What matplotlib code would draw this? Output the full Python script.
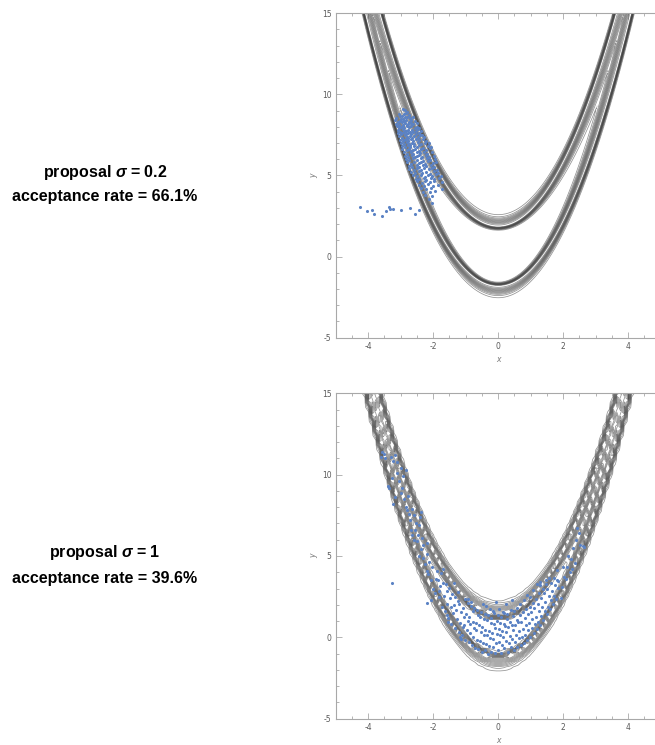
import numpy as np
import matplotlib.pyplot as plt

plt.rcParams['axes.unicode_minus'] = False
plt.rcParams['mathtext.fontset'] = 'custom'
plt.rcParams['mathtext.rm'] = 'Liberation Sans:bold'
plt.rcParams['mathtext.it'] = 'Liberation Sans:bold:italic'

################# Samples #################

# sigma = 0.2 run: main clump on the left arm
top_clump = [
    (-2.92, 9.10), (-2.80, 8.93), (-2.87, 9.02),
    (-3.05, 8.76), (-2.97, 8.69), (-2.84, 8.86), (-2.73, 8.71), (-2.91, 8.81),
    (-3.13, 8.57), (-3.02, 8.66), (-2.93, 8.51), (-2.81, 8.63), (-2.71, 8.55), (-2.62, 8.61), (-2.88, 8.59),
    (-3.17, 8.41), (-3.07, 8.30), (-2.99, 8.47), (-2.89, 8.36), (-2.84, 8.44), (-2.74, 8.29), (-2.67, 8.45), (-2.57, 8.34), (-3.03, 8.38),
    (-3.14, 8.19), (-3.05, 8.11), (-2.96, 8.27), (-2.93, 8.14), (-2.86, 8.21), (-2.77, 8.17), (-2.69, 8.26), (-2.61, 8.15), (-2.51, 8.22), (-2.81, 8.09),
    (-3.11, 8.03), (-3.04, 7.93), (-2.94, 8.06), (-2.89, 7.91), (-2.80, 8.02), (-2.73, 7.98), (-2.67, 8.07), (-2.57, 7.95), (-2.49, 8.01), (-2.44, 7.90), (-2.99, 7.98),
    (-3.09, 7.82), (-3.02, 7.71), (-2.92, 7.87), (-2.87, 7.76), (-2.78, 7.83), (-2.71, 7.70), (-2.65, 7.81), (-2.54, 7.77), (-2.48, 7.86), (-2.39, 7.72), (-2.83, 7.74),
    (-3.07, 7.63), (-2.99, 7.53), (-2.91, 7.67), (-2.83, 7.58), (-2.77, 7.61), (-2.68, 7.55), (-2.61, 7.66), (-2.52, 7.57), (-2.44, 7.64), (-2.35, 7.52), (-2.95, 7.59),
    (-3.06, 7.43), (-2.95, 7.34), (-2.87, 7.48), (-2.81, 7.37), (-2.72, 7.42), (-2.65, 7.31), (-2.59, 7.45), (-2.48, 7.38), (-2.41, 7.47), (-2.29, 7.35), (-2.76, 7.30),
    (-3.01, 7.21), (-2.94, 7.12), (-2.84, 7.27), (-2.78, 7.15), (-2.69, 7.23), (-2.63, 7.11), (-2.53, 7.24), (-2.45, 7.16), (-2.32, 7.27), (-2.21, 7.13), (-2.89, 7.19),
    (-2.99, 7.01), (-2.91, 6.93), (-2.81, 7.06), (-2.75, 6.95), (-2.65, 7.02), (-2.58, 6.97), (-2.47, 7.08), (-2.39, 6.92), (-2.26, 7.03), (-2.13, 6.98), (-2.70, 6.90),
    (-2.96, 6.83), (-2.87, 6.73), (-2.77, 6.87), (-2.71, 6.76), (-2.60, 6.82), (-2.51, 6.77), (-2.43, 6.86), (-2.31, 6.72), (-2.17, 6.84), (-2.06, 6.78),
    (-2.95, 6.61), (-2.82, 6.55), (-2.75, 6.66), (-2.63, 6.57), (-2.56, 6.62), (-2.44, 6.52), (-2.37, 6.65), (-2.23, 6.56), (-2.11, 6.67), (-2.68, 6.51),
    (-2.89, 6.43), (-2.81, 6.34), (-2.69, 6.46), (-2.61, 6.35), (-2.49, 6.42), (-2.41, 6.37), (-2.29, 6.47), (-2.19, 6.32), (-2.03, 6.44),
    (-2.87, 6.23), (-2.77, 6.14), (-2.64, 6.26), (-2.56, 6.12), (-2.44, 6.25), (-2.35, 6.17), (-2.23, 6.27), (-2.13, 6.15), (-1.99, 6.22), (-2.50, 6.19),
    (-2.84, 6.03), (-2.73, 5.93), (-2.61, 6.06), (-2.51, 5.96), (-2.39, 6.05), (-2.31, 5.92), (-2.19, 6.07), (-2.09, 5.97), (-1.94, 6.02),
    (-2.81, 5.83), (-2.67, 5.73), (-2.58, 5.86), (-2.45, 5.76), (-2.37, 5.85), (-2.25, 5.72), (-2.15, 5.87), (-2.01, 5.77), (-1.91, 5.82),
    (-2.75, 5.61), (-2.65, 5.54), (-2.51, 5.66), (-2.43, 5.53), (-2.31, 5.63), (-2.21, 5.57), (-2.07, 5.67), (-1.97, 5.54),
    (-2.73, 5.43), (-2.59, 5.34), (-2.49, 5.46), (-2.37, 5.33), (-2.28, 5.45), (-2.14, 5.37), (-2.04, 5.47), (-1.89, 5.36),
    (-2.67, 5.21), (-2.56, 5.13), (-2.43, 5.26), (-2.34, 5.14), (-2.21, 5.23), (-2.11, 5.12), (-1.97, 5.27), (-1.86, 5.17),
    (-2.63, 5.03), (-2.49, 4.94), (-2.39, 5.06), (-2.26, 4.93), (-2.16, 5.05), (-2.03, 4.97), (-1.91, 5.07), (-1.77, 4.96),
    (-2.54, 4.81), (-2.43, 4.76), (-2.29, 4.86), (-2.21, 4.73), (-2.07, 4.85), (-1.97, 4.77), (-1.83, 4.82),
    (-2.51, 4.63), (-2.35, 4.54), (-2.25, 4.66), (-2.09, 4.57), (-1.99, 4.63), (-1.74, 4.59),
    (-2.45, 4.41), (-2.27, 4.34), (-2.15, 4.46), (-2.01, 4.37), (-1.84, 4.43),
    (-2.37, 4.23), (-2.21, 4.14), (-2.06, 4.25), (-1.73, 4.19),
    (-2.31, 4.01), (-2.11, 3.96), (-1.94, 4.04),
    (-2.24, 3.81), (-2.03, 3.75),
    (-2.13, 3.52), (-2.05, 3.30),
]

# burn-in trail coming in from the left
top_trail = [
    (-4.26, 3.08), (-4.04, 2.83), (-3.87, 2.89), (-3.82, 2.63), (-3.59, 2.48),
    (-3.46, 2.83), (-3.35, 3.06), (-3.34, 2.92), (-3.25, 2.92), (-3.00, 2.89),
    (-2.72, 3.01), (-2.57, 2.63), (-2.43, 2.89),
]

# sigma = 1 run
bottom_left_arm = [
    (-3.62, 11.10), (-3.57, 11.40), (-3.47, 11.00), (-3.52, 11.25), (-3.30, 11.10),
    (-3.25, 10.85), (-3.16, 11.20), (-3.10, 10.80), (-3.00, 10.40), (-2.85, 10.30),
    (-3.40, 9.30), (-3.35, 9.20), (-3.23, 8.20), (-3.18, 8.60), (-3.05, 9.60),
    (-3.00, 8.85), (-2.95, 9.20), (-2.90, 8.50), (-2.85, 8.00), (-2.80, 7.80),
    (-2.75, 7.60), (-2.70, 7.20), (-2.65, 7.90), (-2.60, 7.50), (-2.54, 7.00),
    (-2.45, 6.90), (-2.39, 7.70), (-2.42, 7.40), (-2.60, 6.00), (-2.65, 6.30),
    (-2.55, 6.60), (-2.50, 5.90), (-2.39, 5.40), (-2.35, 6.10), (-2.30, 5.70),
    (-2.18, 5.80), (-2.20, 5.10), (-2.13, 4.65), (-2.25, 4.50), (-2.20, 4.10),
    (-2.08, 3.50), (-2.15, 3.90), (-2.05, 4.30), (-1.93, 2.70), (-2.08, 2.30),
    (-2.18, 2.10), (-2.00, 3.00), (-1.90, 3.60), (-1.87, 4.10), (-2.45, 5.00),
    (-2.92, 9.90), (-2.76, 8.70), (-2.68, 6.60), (-3.12, 10.10), (-3.28, 9.80),
    (-2.48, 6.30), (-2.30, 4.90), (-3.26, 3.32),
]

bottom_bowl = [
    (-1.83, 2.46), (-1.79, 3.18), (-1.75, 3.94), (-1.81, 2.83), (-1.86, 3.55),
    (-1.73, 1.88), (-1.67, 2.57), (-1.69, 3.37), (-1.71, 4.22),
    (-1.63, 1.64), (-1.59, 2.04), (-1.56, 2.86), (-1.61, 3.27), (-1.58, 1.36),
    (-1.53, 1.17), (-1.46, 1.89), (-1.49, 2.41), (-1.51, 3.06), (-1.55, 0.94),
    (-1.44, 0.83), (-1.39, 1.52), (-1.36, 1.97), (-1.42, 2.67), (-1.37, 3.34),
    (-1.33, 0.58), (-1.28, 1.14), (-1.31, 1.66), (-1.24, 2.24), (-1.34, 2.49),
    (-1.21, 0.33), (-1.19, 0.87), (-1.15, 1.54), (-1.22, 2.06), (-1.25, 2.77), (-1.16, 0.04),
    (-1.11, 0.17), (-1.07, 0.66), (-1.05, 1.27), (-1.09, 1.83), (-1.03, 2.34), (-1.13, -0.08),
    (-1.01, -0.16), (-0.97, 0.47), (-0.94, 1.02), (-0.99, 1.44), (-0.93, 2.13), (-1.04, 0.76),
    (-0.91, -0.27), (-0.86, 0.24), (-0.88, 0.83), (-0.90, 1.26), (-0.83, 1.94), (-0.94, 2.37),
    (-0.81, -0.46), (-0.77, 0.03), (-0.74, 0.58), (-0.79, 0.97), (-0.76, 1.63), (-0.84, 2.17),
    (-0.71, -0.63), (-0.66, -0.14), (-0.68, 0.43), (-0.69, 0.86), (-0.63, 1.37), (-0.74, 1.82),
    (-0.61, -0.73), (-0.57, -0.23), (-0.54, 0.34), (-0.59, 0.77), (-0.55, 1.27), (-0.64, 1.68),
    (-0.51, -0.87), (-0.47, -0.34), (-0.45, 0.17), (-0.49, 0.62), (-0.43, 1.13), (-0.52, 1.57), (-0.46, 2.08),
    (-0.41, -0.77), (-0.37, -0.43), (-0.35, 0.12), (-0.40, 0.47), (-0.33, 1.04), (-0.42, 1.46), (-0.36, 1.93),
    (-0.31, -1.02), (-0.27, -0.53), (-0.25, -0.03), (-0.29, 0.42), (-0.23, 0.87), (-0.32, 1.37), (-0.26, 1.73),
    (-0.21, -0.88), (-0.17, -0.62), (-0.15, -0.12), (-0.19, 0.27), (-0.13, 0.83), (-0.22, 1.18), (-0.16, 1.63),
    (-0.11, -0.97), (-0.07, -0.37), (-0.05, 0.22), (-0.09, 0.57), (-0.04, 1.03), (-0.12, 1.47), (-0.06, 2.18),
    (-0.01, -0.78), (0.03, -0.27), (0.05, 0.13), (0.01, 0.53), (0.06, 0.88), (-0.02, 1.36), (0.04, 1.72),
    (0.09, -0.98), (0.13, -0.47), (0.15, 0.04), (0.11, 0.37), (0.17, 0.82), (0.08, 1.23), (0.14, 1.57),
    (0.19, -0.67), (0.23, -0.22), (0.25, 0.33), (0.21, 0.68), (0.27, 1.13), (0.18, 1.47), (0.24, 2.03),
    (0.29, -0.87), (0.33, -0.37), (0.35, 0.07), (0.31, 0.63), (0.37, 0.97), (0.28, 1.42),
    (0.39, -0.57), (0.43, -0.12), (0.45, 0.43), (0.41, 0.77), (0.47, 1.33), (0.38, 1.67), (0.44, 2.27),
    (0.49, -0.77), (0.53, -0.27), (0.55, 0.17), (0.51, 0.73), (0.57, 1.07), (0.48, 1.63),
    (0.59, -0.58), (0.63, -0.07), (0.65, 0.37), (0.61, 0.93), (0.67, 1.38), (0.58, 1.83),
    (0.69, -0.47), (0.73, 0.03), (0.75, 0.53), (0.71, 0.97), (0.77, 1.53), (0.68, 2.03),
    (0.79, -0.37), (0.83, 0.17), (0.85, 0.73), (0.81, 1.17), (0.87, 1.73), (0.78, 2.27),
    (0.89, -0.17), (0.93, 0.43), (0.95, 0.87), (0.91, 1.43), (0.97, 1.87), (0.88, 2.63),
    (0.99, 0.03), (1.03, 0.57), (1.05, 1.13), (1.01, 1.57), (1.07, 2.13), (0.98, 2.47),
    (1.09, 0.27), (1.13, 0.83), (1.15, 1.27), (1.11, 1.83), (1.17, 2.37), (1.08, 2.93),
    (1.19, 0.53), (1.23, 0.97), (1.25, 1.63), (1.21, 2.07), (1.27, 2.73), (1.18, 3.27),
    (1.29, 0.77), (1.33, 1.33), (1.35, 1.87), (1.31, 2.43), (1.37, 2.97), (1.28, 3.43),
    (1.39, 1.07), (1.43, 1.63), (1.45, 2.17), (1.41, 2.73), (1.47, 3.27),
    (1.49, 1.43), (1.53, 1.87), (1.55, 2.53), (1.51, 2.97), (1.57, 3.63),
    (1.59, 1.73), (1.63, 2.27), (1.65, 2.83), (1.61, 3.37),
    (1.69, 2.03), (1.73, 2.57), (1.75, 3.23), (1.71, 3.67),
    (1.79, 2.37), (1.83, 3.03), (1.85, 3.47), (1.81, 4.13),
]

bottom_right_arm = [
    (1.92, 2.40), (1.95, 3.10), (2.02, 3.73), (1.98, 4.30), (2.12, 4.34),
    (2.08, 3.60), (2.15, 5.00), (2.20, 4.00), (2.25, 4.80), (2.30, 5.50),
    (2.35, 4.60), (2.43, 6.70), (2.40, 6.00), (2.53, 5.68), (2.64, 5.57),
    (2.60, 5.62), (2.50, 6.40), (2.28, 4.20), (1.46, 3.52), (1.82, 3.52),
    (1.30, 3.20),
]

# band centres (offset from y = x^2), outer width, inner width at x = 0
# and how fast the inner side spreads out along the arms
top_band = dict(upper=1.85, lower=-1.80, s_out=0.30, s_in=0.09, spread=0.07)
bottom_band = dict(upper=1.35, lower=-1.15, s_out=0.36, s_in=0.09, spread=0.07)

labels = [('proposal $\\sigma$ = 0.2', 'acceptance rate = 66.1%'),
          ('proposal $\\sigma$ = 1', 'acceptance rate = 39.6%')]


def band(u, s_in, s_out):
    # u > 0 points away from the gap between the two bananas
    s = np.where(u < 0, s_in, s_out)
    return np.exp(-0.5 * (u / s) ** 2)


def density(X, Y, upper, lower, s_out, s_in, spread):
    u = Y - X ** 2
    s_inner = s_in + spread * X ** 2
    return np.maximum(band(u - upper, s_inner, s_out), band(lower - u, s_inner, s_out))


def style_axes(ax):
    ax.set_xlim(-5, 5)
    ax.set_ylim(-5, 15)
    ax.set_xticks([-4, -2, 0, 2, 4])
    ax.set_xticks(np.arange(-5, 5.01, 0.5), minor=True)
    ax.set_yticks([-5, 0, 5, 10, 15])
    ax.set_yticks(np.arange(-5, 15.01, 1), minor=True)
    ax.tick_params(which='both', direction='in', top=True, right=True,
                   color='#a8a8a8', width=0.6)
    ax.tick_params(which='major', length=4, labelsize=5.5, labelcolor='#5a5a5a', pad=3)
    ax.tick_params(which='minor', length=2)
    for s in ax.spines.values():
        s.set_color('#a8a8a8')
        s.set_linewidth(0.8)
    ax.set_xlabel('x', fontsize=5.5, style='italic', color='#777777', labelpad=3)
    ax.set_ylabel('y', fontsize=5.5, style='italic', color='#777777', labelpad=3)


fig = plt.figure(figsize=(6.55, 7.45), dpi=100)
ax_top = fig.add_axes([0.5125, 0.5467, 0.4962, 0.4355])
ax_bot = fig.add_axes([0.5125, 0.0353, 0.4962, 0.4368])

levels = np.linspace(0.05, 0.95, 12)

# fine grid on top, coarser grid below
for ax, pars, n in [(ax_top, top_band, (420, 420)), (ax_bot, bottom_band, (90, 70))]:
    X, Y = np.meshgrid(np.linspace(-5, 5, n[0]), np.linspace(-5, 15, n[1]))
    Z = density(X, Y, **pars)
    ax.contour(X, Y, Z, levels=levels, colors='#3a3a3a', linewidths=0.55, alpha=0.55)
    style_axes(ax)

top_pts = np.array(top_clump + top_trail)
bot_pts = np.array(bottom_left_arm + bottom_bowl + bottom_right_arm)
ax_top.scatter(top_pts[:, 0], top_pts[:, 1], s=5, color='#5b82c4', linewidths=0, zorder=3)
ax_bot.scatter(bot_pts[:, 0], bot_pts[:, 1], s=5, color='#5b82c4', linewidths=0, zorder=3)

for (l1, l2), y1, y2 in zip(labels, [173, 553], [197, 578]):
    fig.text(105 / 655, 1 - y1 / 745, l1, ha='center', va='center', fontsize=11.5,
             family='Liberation Sans', weight='bold')
    fig.text(105 / 655, 1 - y2 / 745, l2, ha='center', va='center', fontsize=11.5,
             family='Liberation Sans', weight='bold')

plt.savefig('out.png', dpi=100)
